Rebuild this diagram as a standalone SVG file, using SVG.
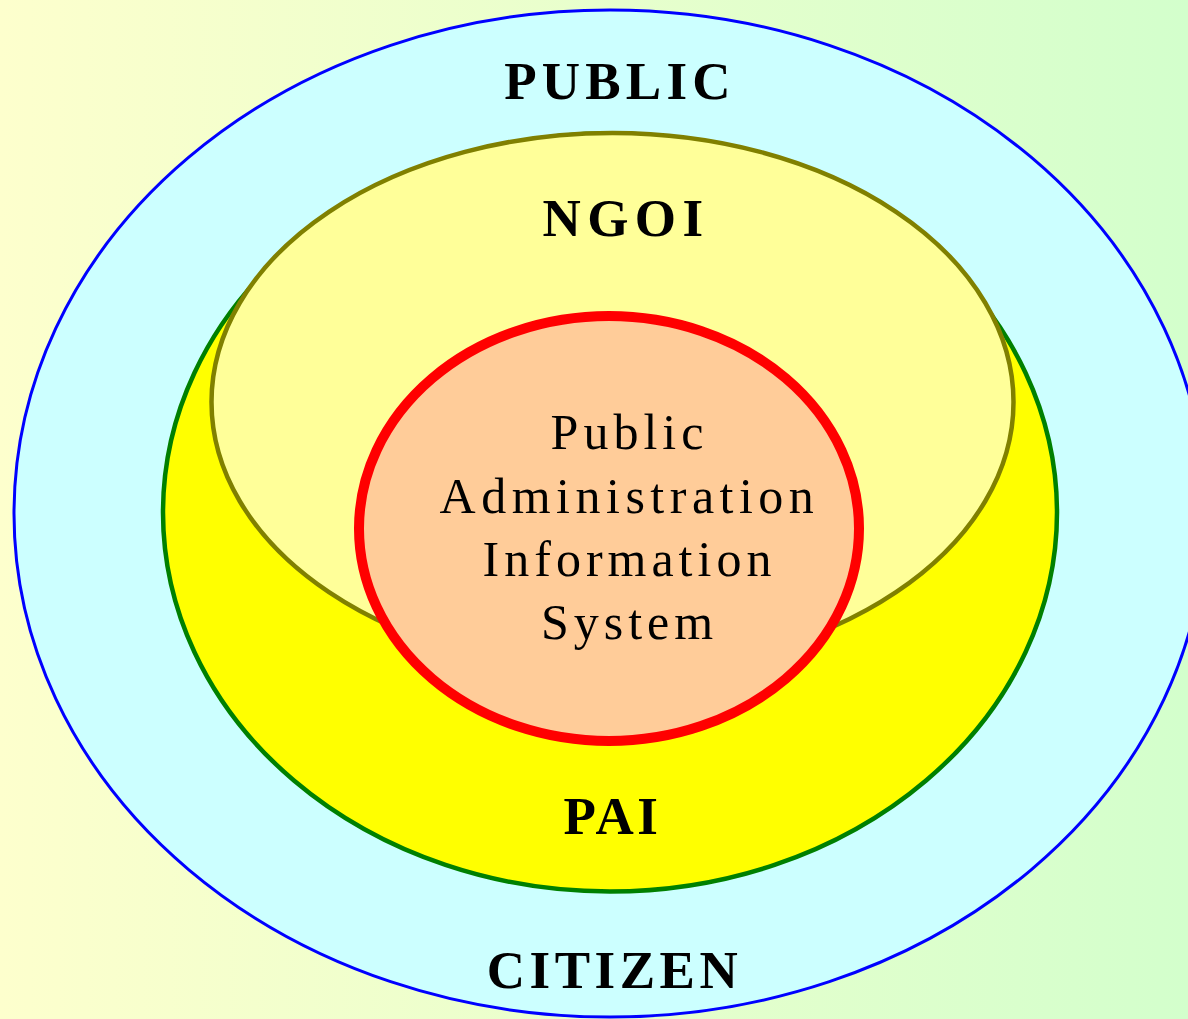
<svg xmlns="http://www.w3.org/2000/svg" width="1188" height="1019" viewBox="0 0 1188 1019">
  <defs>
    <linearGradient id="bg" x1="0" y1="0" x2="1" y2="0">
      <stop offset="0" stop-color="#fdffcd"/>
      <stop offset="1" stop-color="#d3ffcc"/>
    </linearGradient>
  </defs>
  <style>
    .lbl { font-family: "Liberation Serif", "Times New Roman", serif; font-weight: bold; font-size: 53px; fill: #000; text-anchor: middle; }
    .body { font-family: "Liberation Serif", "Times New Roman", serif; font-size: 50px; fill: #000; text-anchor: middle; letter-spacing: 5px; }
  </style>
  <rect x="0" y="0" width="1188" height="1019" fill="url(#bg)"/>
  <g id="citizen-public">
    <ellipse cx="610" cy="513.5" rx="596" ry="503.5" fill="#ccffff" stroke="#0000ff" stroke-width="3"/>
  </g>
  <g id="pai">
    <ellipse cx="610" cy="512.5" rx="447" ry="379" fill="#ffff00" stroke="#008000" stroke-width="4.5"/>
  </g>
  <g id="ngoi">
    <ellipse cx="612.5" cy="402" rx="401" ry="269" fill="#ffff99" stroke="#808000" stroke-width="4.5"/>
  </g>
  <g id="pais">
    <ellipse cx="609" cy="528.5" rx="250" ry="212.5" fill="#ffcc99" stroke="#ff0000" stroke-width="10"/>
  </g>
  <g id="connectors"></g>
  <g id="labels">
    <text class="lbl" x="620" y="99" style="letter-spacing:5.2px">PUBLIC</text>
    <text class="lbl" x="626" y="236" style="letter-spacing:6.4px">NGOI</text>
    <text class="lbl" x="612.5" y="834" style="letter-spacing:3.5px">PAI</text>
    <text class="lbl" x="614.5" y="988" style="letter-spacing:4.5px">CITIZEN</text>
    <text class="body" x="629.5" y="449">Public</text>
    <text class="body" x="629.5" y="513" style="letter-spacing:5.5px">Administration</text>
    <text class="body" x="629.5" y="576">Information</text>
    <text class="body" x="629.5" y="639">System</text>
  </g>
</svg>
